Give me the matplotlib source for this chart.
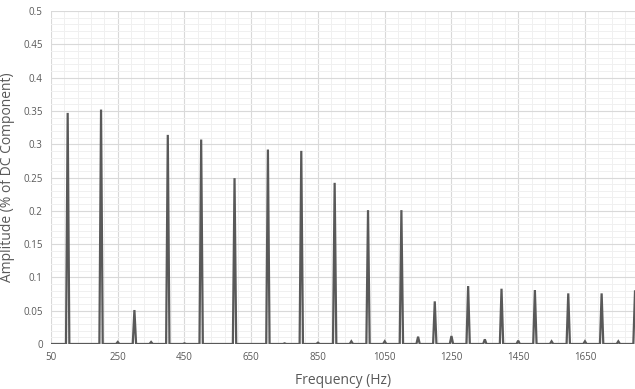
"""Frequency spectrum of harmonics (Amplitude vs Frequency)"""

import matplotlib

matplotlib.use("Agg")
import matplotlib.pyplot as plt
import numpy as np

plt.rcParams["font.family"] = ["Open Sans", "DejaVu Sans"]

# ── data ──
peak_freqs = [100, 200, 300, 400, 500, 600, 700, 800, 900, 1000, 1100,
              1200, 1300, 1400, 1500, 1600, 1700, 1800]
peak_amps = [0.347, 0.352, 0.051, 0.314, 0.307, 0.249, 0.292, 0.290, 0.242,
             0.201, 0.201, 0.064, 0.087, 0.083, 0.081, 0.076, 0.076, 0.079]
small_freqs = [250, 350, 450, 550, 650, 750, 850, 950, 1050, 1150, 1250,
               1350, 1450, 1550, 1650, 1750]
small_amps = [0.003, 0.003, 0.001, 0.0, 0.0, 0.001, 0.002, 0.004, 0.004,
              0.011, 0.012, 0.007, 0.005, 0.004, 0.004, 0.004]
x_ticks = [50, 250, 450, 650, 850, 1050, 1250, 1450, 1650]
y_ticks = [0, 0.05, 0.1, 0.15, 0.2, 0.25, 0.3, 0.35, 0.4, 0.45, 0.5]
y_labels = ["0", "0.05", "0.1", "0.15", "0.2", "0.25", "0.3",
            "0.35", "0.4", "0.45", "0.5"]

freq = np.arange(50, 1805, 5)
amp = np.zeros(len(freq))
for f, a in zip(peak_freqs + small_freqs, peak_amps + small_amps):
    amp[np.searchsorted(freq, f)] = a

LINE = "#595959"
TEXT = "#595959"

fig = plt.figure(figsize=(6.35, 3.89), dpi=100, facecolor="white")
ax = fig.add_axes([0.0803, 0.1157, 0.9197, 0.856])
ax.plot(freq, amp, color=LINE, linewidth=1.6, solid_joinstyle="miter", zorder=3)

ax.set_xlim(50, 1800)
ax.set_ylim(0, 0.5)
ax.set_xticks(x_ticks)
ax.set_xticks(np.arange(50, 1800, 40), minor=True)
ax.set_yticks(y_ticks)
ax.set_yticklabels(y_labels)
ax.set_yticks(np.arange(0, 0.5, 0.01), minor=True)

ax.grid(which="major", color="#d9d9d9", linewidth=0.8, zorder=0)
ax.grid(which="minor", color="#f0f0f0", linewidth=0.7, zorder=0)
ax.set_axisbelow(True)
for s in ax.spines.values():
    s.set_visible(False)
ax.tick_params(which="both", length=0, labelsize=7, labelcolor=TEXT, pad=6)

ax.set_xlabel("Frequency (Hz)", fontsize=10, color=TEXT, labelpad=7)
ax.set_ylabel("Amplitude (% of DC Component)", fontsize=10, color=TEXT, labelpad=6)

fig.savefig("out.png", dpi=100, facecolor="white")
plt.close()
